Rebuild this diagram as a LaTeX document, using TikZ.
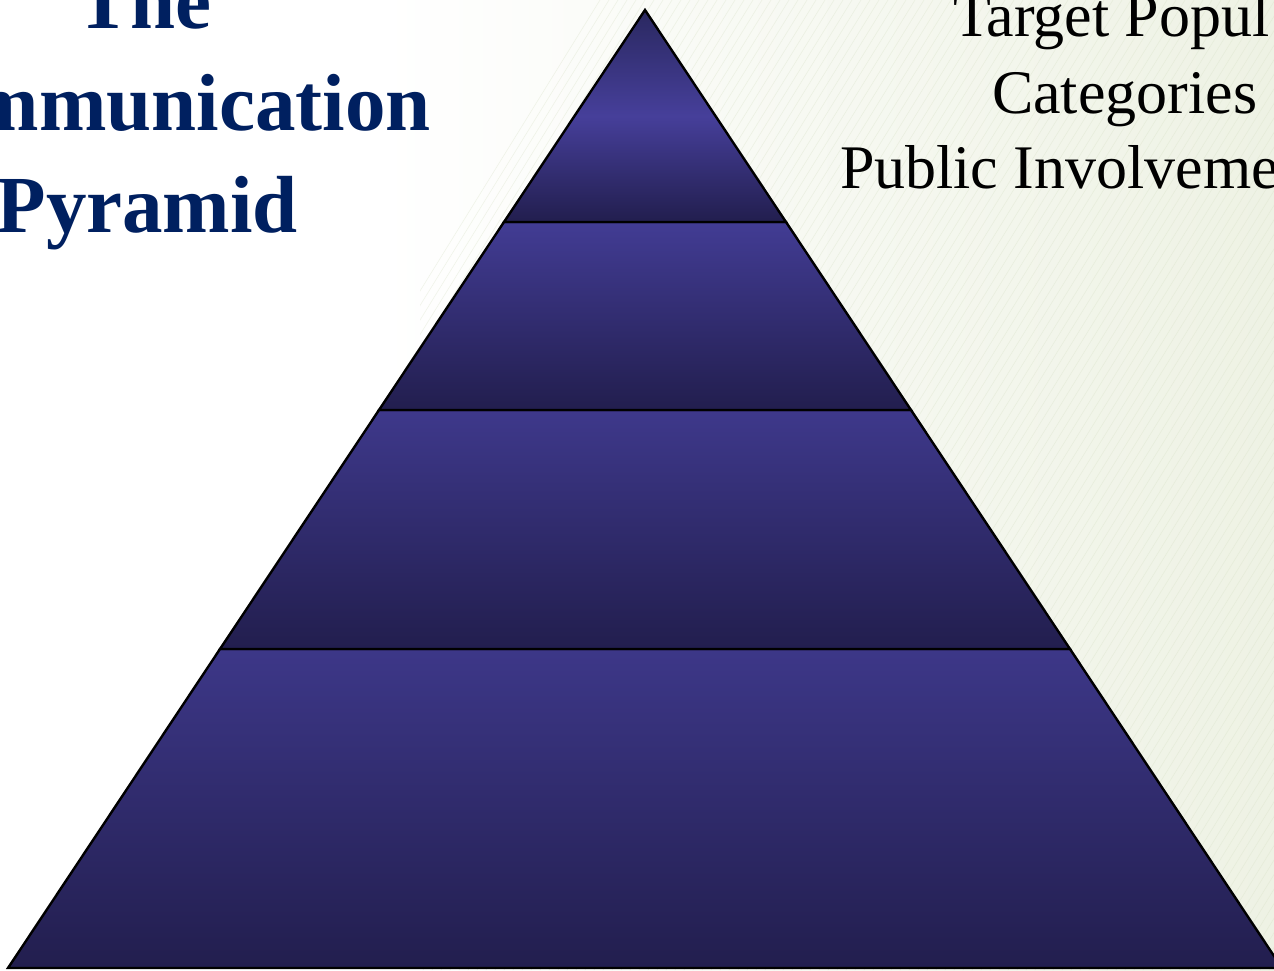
\documentclass[tikz,border=0pt]{standalone}
\usepackage{fontspec}
\setmainfont{Liberation Serif}
\definecolor{titleblue}{RGB}{0,32,96}
\definecolor{bgtint}{RGB}{238,242,228}
\definecolor{hatch}{RGB}{214,224,196}
\definecolor{bandtop}{RGB}{66,60,148}
\definecolor{bandmid}{RGB}{70,63,154}
\definecolor{bandbot}{RGB}{34,30,78}
\definecolor{apextop}{RGB}{42,40,96}
\begin{document}
\begin{tikzpicture}[x=1pt,y=-1pt,
  band/.style={draw=black, line width=2.4pt, line join=miter},
  titletext/.style={font=\fontsize{81}{97}\selectfont\bfseries, text=titleblue, inner sep=0pt, outer sep=0pt},
  sidetext/.style={font=\fontsize{62}{76}\selectfont, text=black, inner sep=0pt, outer sep=0pt}]
\useasboundingbox (0,0) rectangle (1274,970);
\clip (0,0) rectangle (1274,970);

% paper-like background, white on the left, tinted towards the right
\fill[white] (0,0) rectangle (1274,970);
\shade[left color=white, right color=bgtint] (380,0) rectangle (1274,970);
\begin{scope}
  \clip (420,0) rectangle (1274,970);
  \foreach \k in {0,9,...,1800}
    \draw[hatch, line width=0.6pt, opacity=0.35] (\k,970) -- ++(600,-970);
\end{scope}

% pyramid corner points
\coordinate (apex) at (645,10);
\coordinate (l1) at (504,222);  \coordinate (r1) at (786,222);
\coordinate (l2) at (379,410);  \coordinate (r2) at (911,410);
\coordinate (l3) at (220,649);  \coordinate (r3) at (1070,649);
\coordinate (l4) at (8,968);    \coordinate (r4) at (1282,968);

% bands, bottom to top
\shade[top color=bandtop!92!black, bottom color=bandbot] (l3) -- (r3) -- (r4) -- (l4) -- cycle;
\draw[band] (l3) -- (r3) -- (r4) -- (l4) -- cycle;
\shade[top color=bandtop!94!black, bottom color=bandbot] (l2) -- (r2) -- (r3) -- (l3) -- cycle;
\draw[band] (l2) -- (r2) -- (r3) -- (l3) -- cycle;
\shade[top color=bandtop, bottom color=bandbot] (l1) -- (r1) -- (r2) -- (l2) -- cycle;
\draw[band] (l1) -- (r1) -- (r2) -- (l2) -- cycle;
\shade[top color=apextop, bottom color=bandbot, middle color=bandmid] (apex) -- (r1) -- (l1) -- cycle;
\draw[band] (apex) -- (r1) -- (l1) -- cycle;

% title
\node[titletext, anchor=base] (t1) at (144,28) {The};
\node[titletext, anchor=base east] (t2) at (431,130) {mmunication};
\node[titletext, anchor=base east] (t3) at (298,232) {Pyramid};

% side caption
\node[sidetext, anchor=base west] (c1) at (953,36) {Target Popul};
\node[sidetext, anchor=base west] (c2) at (992,113) {Categories};
\node[sidetext, anchor=base west] (c3) at (840,188) {Public Involveme};
\end{tikzpicture}
\end{document}
